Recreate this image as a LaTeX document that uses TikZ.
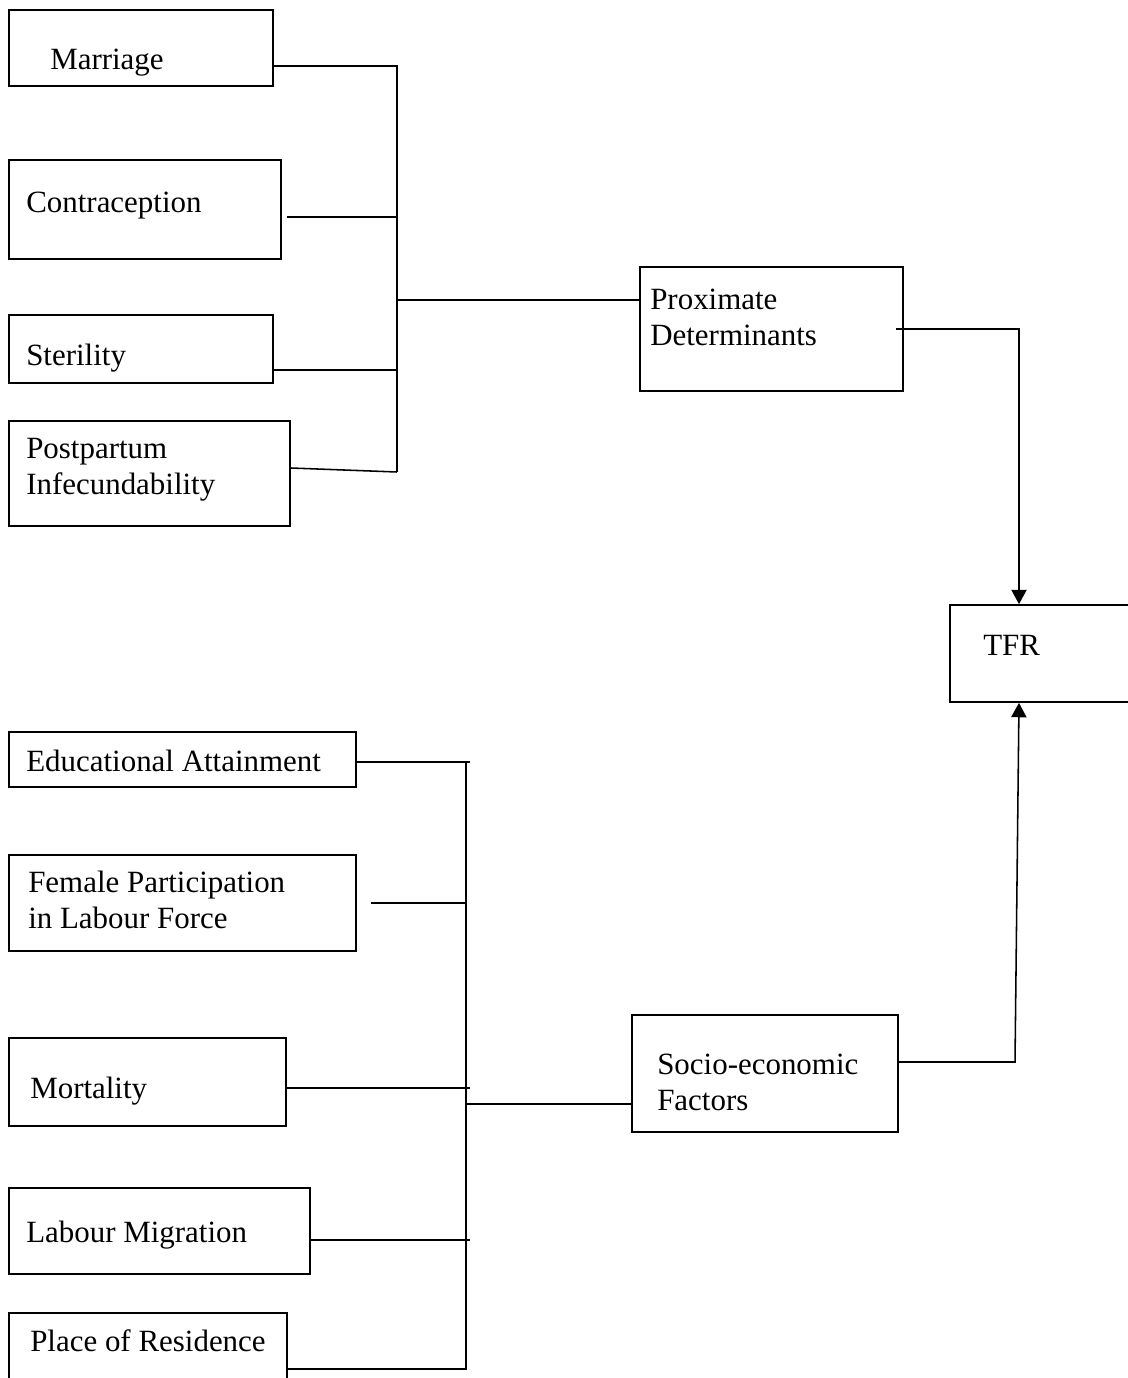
\documentclass[tikz,border=0pt]{standalone}
\usepackage{fontspec}
\setmainfont{Liberation Serif}
\usetikzlibrary{arrows.meta}

\begin{document}
\begin{tikzpicture}[x=0.025cm, y=-0.025cm,
    factorBox/.style 2 args={draw=borderColour, line width=1.2pt, minimum width=#1*0.025cm, minimum height=#2*0.025cm, inner sep=0pt},
    factorText/.style={anchor=north west, inner sep=0pt, align=left, font=\fontsize{22}{25.5}\selectfont},
    link/.style={draw=borderColour, line width=1.1pt},
    arrowLink/.style={link, -{Triangle[width=0.38cm, length=0.36cm]}}]
    % Define colours
    \definecolor{borderColour}{HTML}{000000}

    % Fix the page and cut off what runs over its edge
    \useasboundingbox (0,0) rectangle (1128,1378);
    \clip (0,0) rectangle (1128,1378);

    % Draw proximate determinant boxes
    \node[factorBox={264}{76}] (marriage) at (141,48) {};
    \node[factorBox={272}{99}] (contraception) at (145,209.5) {};
    \node[factorBox={264}{68}] (sterility) at (141,349) {};
    \node[factorBox={281}{105}] (postpartum) at (149.5,473.5) {};
    \node[factorText] (marriageText) at (50,49) {Marriage};
    \node[factorText] (contraceptionText) at (26,192) {Contraception};
    \node[factorText] (sterilityText) at (26,344) {Sterility};
    \node[factorText] (postpartumText) at (26,438) {Postpartum\\Infecundability};

    % Draw middle and outcome boxes
    \node[factorBox={263}{124}] (proximate) at (771.5,329) {};
    \node[factorText] (proximateText) at (650,289) {Proximate\\Determinants};
    \node[factorBox={190}{97}] (tfr) at (1045,653.5) {};
    \node[factorText] (tfrText) at (983,635) {TFR};
    \node[factorBox={266}{117}] (socio) at (765,1073.5) {};
    \node[factorText] (socioText) at (657,1054) {Socio-economic\\Factors};

    % Draw socio-economic factor boxes
    \node[factorBox={347}{55}] (educ) at (182.5,759.5) {};
    \node[factorBox={347}{96}] (female) at (182.5,903) {};
    \node[factorBox={277}{88}] (mortality) at (147.5,1082) {};
    \node[factorBox={301}{86}] (labour) at (159.5,1231) {};
    \node[factorBox={278}{107}] (place) at (148,1366.5) {};
    \node[factorText] (educText) at (26,750) {Educational Attainment};
    \node[factorText] (femaleText) at (28,871) {Female Participation\\in Labour Force};
    \node[factorText] (mortalityText) at (30,1077) {Mortality};
    \node[factorText] (labourText) at (26,1221) {Labour Migration};
    \node[factorText] (placeText) at (30,1329) {Place of Residence};

    % Define coordinates for the upper bus
    \coordinate (pdBusTop) at (397,66);
    \coordinate (pdTapContra) at (397,217);
    \coordinate (pdTapSteril) at (397,370);
    \coordinate (pdBusBottom) at (397,472);
    \coordinate (pdJoin) at (397,300);
    \coordinate (ppLevel) at (0,468);

    % Draw upper bus
    \draw[link] (marriage.east |- pdBusTop) -- (pdBusTop) -- (pdBusBottom);
    \draw[link] ([xshift=0.125cm]contraception.east |- pdTapContra) -- (pdTapContra);
    \draw[link] (sterility.east |- pdTapSteril) -- (pdTapSteril);
    \draw[link] (postpartum.east |- ppLevel) -- (pdBusBottom);
    \draw[link] (pdJoin) -- (proximate.west |- pdJoin);

    % Define coordinates for the lower bus
    \coordinate (seBusTop) at (466,762);
    \coordinate (seBusBottom) at (466,1369);
    \coordinate (seJoin) at (466,1104);
    \coordinate (seTapEduc) at (470,762);
    \coordinate (seTapFemale) at (466,903);
    \coordinate (seTapMort) at (470,1088);
    \coordinate (seTapLabour) at (470,1240);

    % Draw lower bus
    \draw[link] (seBusTop) -- (seBusBottom) -- (place.east |- seBusBottom);
    \draw[link] (educ.east |- seTapEduc) -- (seTapEduc);
    \draw[link] ([xshift=0.35cm]female.east |- seTapFemale) -- (seTapFemale);
    \draw[link] (mortality.east |- seTapMort) -- (seTapMort);
    \draw[link] (labour.east |- seTapLabour) -- (seTapLabour);
    \draw[link] (seJoin) -- (socio.west |- seJoin);

    % Draw arrows into TFR
    \coordinate (seBend) at (1015,1062);
    \draw[arrowLink] ([xshift=-0.2cm]proximate.east) -| ([xshift=-0.65cm]tfr.north);
    \draw[arrowLink] (socio.east |- seBend) -- (seBend) -- ([xshift=-0.65cm]tfr.south);

\end{tikzpicture}
\end{document}
